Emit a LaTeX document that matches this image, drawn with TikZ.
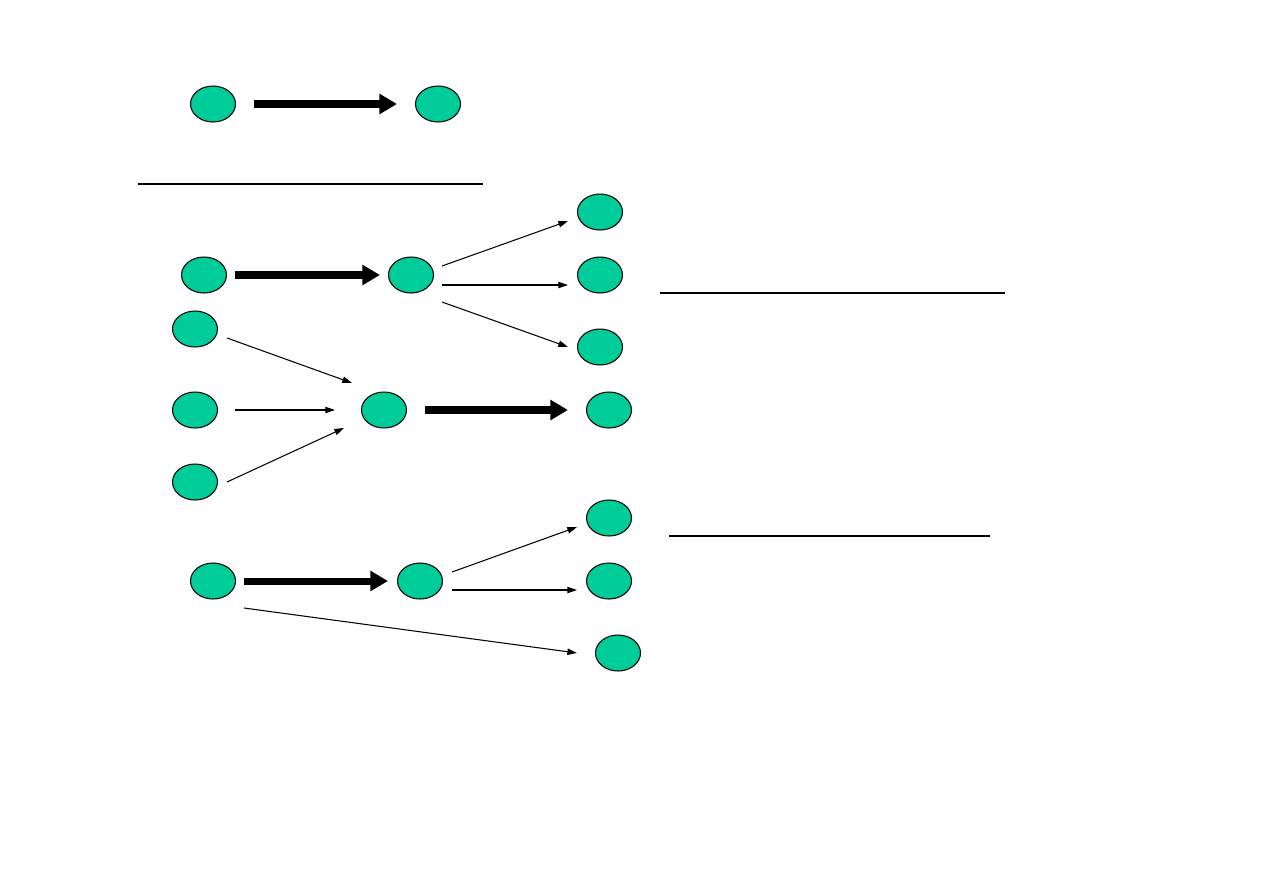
\documentclass[tikz,border=0pt]{standalone}
\usetikzlibrary{calc,arrows.meta,shapes.geometric}
\definecolor{nodoVerde}{HTML}{00CC99}

\begin{document}
\begin{tikzpicture}[x=0.02cm, y=-0.02cm,
      n/.style={ellipse, draw=black, line width=0.6pt, fill=nodoVerde,
                minimum width=0.9cm, minimum height=0.72cm, inner sep=0pt},
      gruesa/.style={line width=4pt, -{Triangle[length=10pt,width=11pt]}},
      fina/.style={line width=0.6pt, -{Triangle[length=5.5pt,width=3.6pt]}},
      raya/.style={line width=1.1pt}]
    \useasboundingbox (0,0) rectangle (1263,893);
    % fila de arriba
    \node[n] (a1) at (213,104) {};
    \node[n] (a2) at (438,104) {};
    \draw[gruesa] ($(a1)+(41,0)$) -- ($(a2)+(-41,0)$);
    \draw[raya] (138,184) -- (483,184);
    % primer bloque
    \node[n] (b1) at (204,275) {};
    \node[n] (b2) at (411,275) {};
    \node[n] (c1) at (600,212) {};
    \node[n] (c2) at (600,275) {};
    \node[n] (c3) at (600,347) {};
    \draw[gruesa] ($(b1)+(31,0)$) -- ($(b2)+(-31,0)$);
    \draw[fina] ($(b2)+(31,-9)$) -- ($(c1)+(-32,9)$);
    \draw[fina] ($(b2)+(31,10)$) -- ($(c2)+(-32,10)$);
    \draw[fina] ($(b2)+(31,27)$) -- ($(c3)+(-32,0)$);
    \draw[raya] (660,293) -- (1005,293);
    % segundo bloque
    \node[n] (d1) at (195,329) {};
    \node[n] (d2) at (195,410) {};
    \node[n] (d3) at (195,482) {};
    \node[n] (e)  at (384,410) {};
    \node[n] (f)  at (609,410) {};
    \draw[fina] ($(d1)+(32,9)$) -- ($(e)+(-32,-27)$);
    \draw[fina] ($(d2)+(40,0)$) -- ($(e)+(-49,0)$);
    \draw[fina] ($(d3)+(32,0)$) -- ($(e)+(-40,18)$);
    \draw[gruesa] ($(e)+(41,0)$) -- ($(f)+(-41,0)$);
    \draw[raya] (669,536) -- (990,536);
    % tercer bloque
    \node[n] (g1) at (213,581) {};
    \node[n] (g2) at (420,581) {};
    \node[n] (h1) at (609,518) {};
    \node[n] (h2) at (609,581) {};
    \node[n] (h3) at (618,653) {};
    \draw[gruesa] ($(g1)+(31,0)$) -- ($(g2)+(-32,0)$);
    \draw[fina] ($(g2)+(32,-9)$) -- ($(h1)+(-32,9)$);
    \draw[fina] ($(g2)+(32,9)$) -- ($(h2)+(-32,9)$);
    \draw[fina] ($(g1)+(31,27)$) -- ($(h3)+(-41,0)$);
  \end{tikzpicture}
\end{document}
